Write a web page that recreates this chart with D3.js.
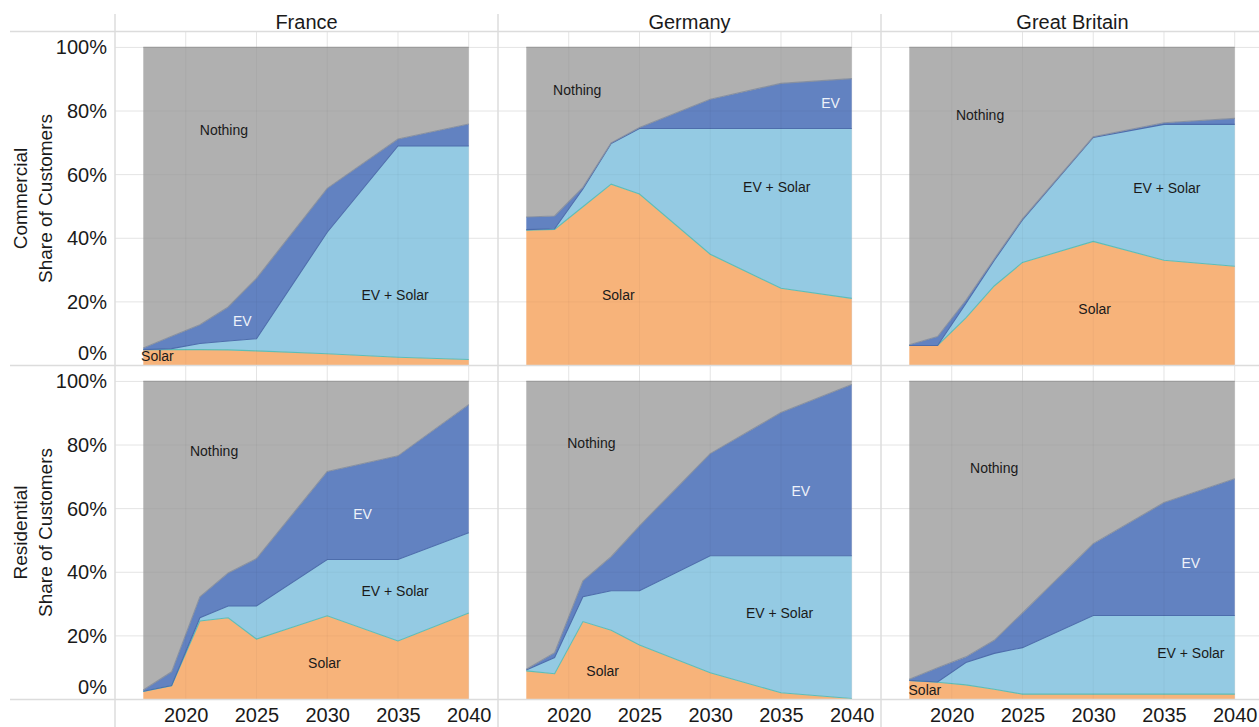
<!DOCTYPE html>
<html>
<head>
<meta charset="utf-8">
<script src="https://cdn.jsdelivr.net/npm/d3@7"></script>
<style>
  html, body { margin: 0; padding: 0; background: #fff; }
  svg { display: block; font-family: "Liberation Sans", Arial, sans-serif; }
</style>
</head>
<body>
<svg id="chart" width="1259" height="727"></svg>
<script>
// Customer adoption shares (%) by country and segment
const years = [2017, 2019, 2021, 2023, 2025, 2030, 2035, 2040];
const countries = ["France", "Germany", "Great Britain"];
const segments = ["Commercial", "Residential"];
const layers = ["Solar", "EV + Solar", "EV", "Nothing"];
const yTickValues = [0, 20, 40, 60, 80, 100];
const xTickValues = [2020, 2025, 2030, 2035, 2040];

const franceCommercialSolar   = [5.0, 5.0, 5.0, 4.9, 4.6, 3.7, 2.6, 1.9];
const franceCommercialEvSolar = [0.0, 0.3, 1.9, 2.8, 3.8, 38.2, 66.4, 67.1];
const franceCommercialEv      = [0.5, 3.9, 5.9, 10.7, 19.0, 13.8, 2.2, 6.9];

const germanyCommercialSolar   = [42.5, 42.8, 49.9, 57.0, 53.9, 35.0, 24.3, 21.1];
const germanyCommercialEvSolar = [0.2, 0.2, 5.6, 12.8, 20.6, 39.5, 50.2, 53.4];
const germanyCommercialEv      = [4.0, 4.0, 0.5, 0.2, 0.3, 9.2, 14.2, 15.7];

const britainCommercialSolar   = [6.3, 6.3, 15.0, 25.0, 32.4, 39.0, 33.1, 31.2];
const britainCommercialEvSolar = [0.0, 0.0, 4.5, 8.0, 13.4, 32.7, 42.7, 44.6];
const britainCommercialEv      = [0.2, 2.8, 1.0, 0.5, 0.3, 0.2, 0.5, 1.9];

const franceResidentialSolar   = [2.5, 4.3, 24.7, 25.7, 19.0, 26.3, 18.4, 27.2];
const franceResidentialEvSolar = [0.1, 0.1, 1.0, 3.7, 10.4, 17.7, 25.6, 25.2];
const franceResidentialEv      = [0.4, 4.3, 6.6, 10.4, 14.9, 27.7, 32.6, 40.3];

const germanyResidentialSolar   = [9.0, 8.1, 24.5, 21.8, 17.1, 8.4, 2.1, 0.3];
const germanyResidentialEvSolar = [0.3, 5.1, 7.8, 12.4, 17.1, 36.8, 43.1, 44.9];
const germanyResidentialEv      = [0.2, 1.5, 5.0, 10.7, 20.4, 32.1, 45.0, 53.8];

const britainResidentialSolar   = [6.0, 5.4, 4.6, 3.2, 1.7, 1.7, 1.7, 1.7];
const britainResidentialEvSolar = [0.0, 0.1, 7.0, 11.3, 14.6, 24.7, 24.7, 24.7];
const britainResidentialEv      = [0.4, 4.5, 1.8, 4.1, 10.9, 22.6, 35.5, 43.0];

// In-area label anchors, in data units (year, share %)
const areaLabels = [
  ["France", "Commercial", "Nothing", 2022.7, 74],
  ["France", "Commercial", "EV", 2024.0, 13.9],
  ["France", "Commercial", "EV + Solar", 2034.8, 22],
  ["France", "Commercial", "Solar", 2018.0, 2.8],
  ["Germany", "Commercial", "Nothing", 2020.6, 86.6],
  ["Germany", "Commercial", "EV", 2038.5, 82.5],
  ["Germany", "Commercial", "EV + Solar", 2034.7, 56],
  ["Germany", "Commercial", "Solar", 2023.5, 22],
  ["Great Britain", "Commercial", "Nothing", 2022.0, 78.7],
  ["Great Britain", "Commercial", "EV + Solar", 2035.2, 55.7],
  ["Great Britain", "Commercial", "Solar", 2030.1, 17.6],
  ["France", "Residential", "Nothing", 2022.0, 78],
  ["France", "Residential", "EV", 2032.5, 58.4],
  ["France", "Residential", "EV + Solar", 2034.8, 34.2],
  ["France", "Residential", "Solar", 2029.8, 11.5],
  ["Germany", "Residential", "Nothing", 2021.6, 80.5],
  ["Germany", "Residential", "EV", 2036.4, 65.4],
  ["Germany", "Residential", "EV + Solar", 2034.9, 27.2],
  ["Germany", "Residential", "Solar", 2022.4, 9],
  ["Great Britain", "Residential", "Nothing", 2023.0, 72.6],
  ["Great Britain", "Residential", "EV", 2036.9, 43],
  ["Great Britain", "Residential", "EV + Solar", 2036.9, 14.6],
  ["Great Britain", "Residential", "Solar", 2018.1, 3]
];

const panelSeries = [
  ["France", "Commercial", franceCommercialSolar, franceCommercialEvSolar, franceCommercialEv],
  ["Germany", "Commercial", germanyCommercialSolar, germanyCommercialEvSolar, germanyCommercialEv],
  ["Great Britain", "Commercial", britainCommercialSolar, britainCommercialEvSolar, britainCommercialEv],
  ["France", "Residential", franceResidentialSolar, franceResidentialEvSolar, franceResidentialEv],
  ["Germany", "Residential", germanyResidentialSolar, germanyResidentialEvSolar, germanyResidentialEv],
  ["Great Britain", "Residential", britainResidentialSolar, britainResidentialEvSolar, britainResidentialEv]
];

// ---- layout ----
const W = 1259, H = 727;
const colLeft0 = 115, colWidth = 383;
const headerBottom = 31.5, rowHeight = 334;
const xDomain = [2015, 2042.07];
const yDomain = [0, 105];

const fills = {
  "Solar": "#f7b37a",
  "EV + Solar": "#94cae3",
  "EV": "#6282c1",
  "Nothing": "#b0b0b0"
};
const edges = {
  "Solar": "#5dbdb6",
  "EV + Solar": "#4d6dac",
  "EV": "#8790a0",
  "Nothing": "#a2a2a2"
};
const labelColors = { "EV": "#eef2fa" };
const textColor = "#1a1a1a";

const svg = d3.select("#chart");
const gridColor = "#ececec";
const dividerColor = "#dcdcdc";

function xScaleFor(ci) {
  const left = colLeft0 + ci * colWidth;
  return d3.scaleLinear().domain(xDomain).range([left, left + colWidth]);
}
function yScaleFor(ri) {
  const top = headerBottom + ri * rowHeight;
  return d3.scaleLinear().domain(yDomain).range([top + rowHeight, top]);
}

const gridLayer = svg.append("g");
const markLayer = svg.append("g");
const overlayGrid = svg.append("g");
const frameLayer = svg.append("g");
const textLayer = svg.append("g");

// gridlines (beneath and faintly over the areas)
segments.forEach((seg, ri) => {
  const y = yScaleFor(ri);
  countries.forEach((c, ci) => {
    const x = xScaleFor(ci);
    const [x0, x1] = x.range();
    [gridLayer, overlayGrid].forEach((layer, li) => {
      const stroke = li === 0 ? gridColor : "rgba(0,0,0,0.035)";
      layer.selectAll(null)
        .data(yTickValues.slice(1)).enter().append("line")
        .attr("x1", x0).attr("x2", x1)
        .attr("y1", d => y(d)).attr("y2", d => y(d))
        .attr("stroke", stroke).attr("stroke-width", 1);
      layer.selectAll(null)
        .data(xTickValues).enter().append("line")
        .attr("x1", d => x(d)).attr("x2", d => x(d))
        .attr("y1", y.range()[1]).attr("y2", y.range()[0])
        .attr("stroke", stroke).attr("stroke-width", 1);
    });
  });
});

// stacked areas per panel
const stack = d3.stack().keys(layers);
panelSeries.forEach(([country, segment, solar, evSolar, ev]) => {
  const ci = countries.indexOf(country);
  const ri = segments.indexOf(segment);
  const x = xScaleFor(ci), y = yScaleFor(ri);
  const rows = years.map((yr, i) => ({
    year: yr,
    "Solar": solar[i],
    "EV + Solar": evSolar[i],
    "EV": ev[i],
    "Nothing": 100 - solar[i] - evSolar[i] - ev[i]
  }));
  const stacked = stack(rows);
  const area = d3.area()
    .x(d => x(d.data.year))
    .y0(d => y(d[0]))
    .y1(d => y(d[1]));
  const topLine = d3.line()
    .x(d => x(d.data.year))
    .y(d => y(d[1]));
  const g = markLayer.append("g");
  g.selectAll("path.area")
    .data(stacked).enter().append("path")
    .attr("class", "area")
    .attr("d", area)
    .attr("fill", s => fills[s.key]);
  g.selectAll("path.edge")
    .data(stacked).enter().append("path")
    .attr("class", "edge")
    .attr("d", topLine)
    .attr("fill", "none")
    .attr("stroke", s => edges[s.key])
    .attr("stroke-width", 1.1);
});

// frame: header rule, row rule, bottom rule, column dividers
[0, 1, 2].forEach(k => {
  frameLayer.append("line")
    .attr("x1", 10).attr("x2", W)
    .attr("y1", headerBottom + k * rowHeight).attr("y2", headerBottom + k * rowHeight)
    .attr("stroke", dividerColor).attr("stroke-width", 1.5);
});
frameLayer.selectAll(null)
  .data(countries).enter().append("line")
  .attr("x1", (d, i) => xScaleFor(i).range()[0])
  .attr("x2", (d, i) => xScaleFor(i).range()[0])
  .attr("y1", 14).attr("y2", H)
  .attr("stroke", dividerColor).attr("stroke-width", 1.5);

// column headers
textLayer.selectAll(null)
  .data(countries).enter().append("text")
  .attr("x", (d, i) => d3.mean(xScaleFor(i).range()))
  .attr("y", 29)
  .attr("text-anchor", "middle")
  .attr("font-size", 20)
  .attr("fill", textColor)
  .text(d => d);

// y axes with titles
segments.forEach((seg, ri) => {
  const y = yScaleFor(ri);
  const axis = d3.axisLeft(y)
    .tickValues(yTickValues)
    .tickSize(0)
    .tickPadding(8)
    .tickFormat(d => d + "%");
  const ga = textLayer.append("g")
    .attr("transform", `translate(${colLeft0},0)`)
    .call(axis);
  ga.select(".domain").remove();
  ga.selectAll("text")
    .attr("font-size", 20)
    .attr("font-family", "Liberation Sans, Arial, sans-serif")
    .attr("fill", textColor)
    .attr("dy", d => d === 0 ? "-0.3em" : "0.32em");
  const cy = d3.mean(y.range());
  const title = textLayer.append("text")
    .attr("transform", `translate(0,${cy}) rotate(-90)`)
    .attr("text-anchor", "middle")
    .attr("font-size", 19)
    .attr("fill", textColor);
  title.append("tspan").attr("x", 0).attr("y", 27).text(seg);
  title.append("tspan").attr("x", 0).attr("y", 52).text("Share of Customers");
});

// x axes
countries.forEach((c, ci) => {
  const x = xScaleFor(ci);
  const axis = d3.axisBottom(x)
    .tickValues(xTickValues)
    .tickSize(0)
    .tickPadding(8)
    .tickFormat(d3.format("d"));
  const ga = textLayer.append("g")
    .attr("transform", `translate(0,${headerBottom + 2 * rowHeight})`)
    .call(axis);
  ga.select(".domain").remove();
  ga.selectAll("text")
    .attr("font-size", 20)
    .attr("font-family", "Liberation Sans, Arial, sans-serif")
    .attr("fill", textColor);
});

// labels inside the areas
textLayer.selectAll("text.area-label")
  .data(areaLabels).enter().append("text")
  .attr("class", "area-label")
  .attr("x", d => xScaleFor(countries.indexOf(d[0]))(d[3]))
  .attr("y", d => yScaleFor(segments.indexOf(d[1]))(d[4]))
  .attr("dy", "0.35em")
  .attr("text-anchor", "middle")
  .attr("font-size", 14)
  .attr("fill", d => labelColors[d[2]] || textColor)
  .text(d => d[2]);
</script>
</body>
</html>
